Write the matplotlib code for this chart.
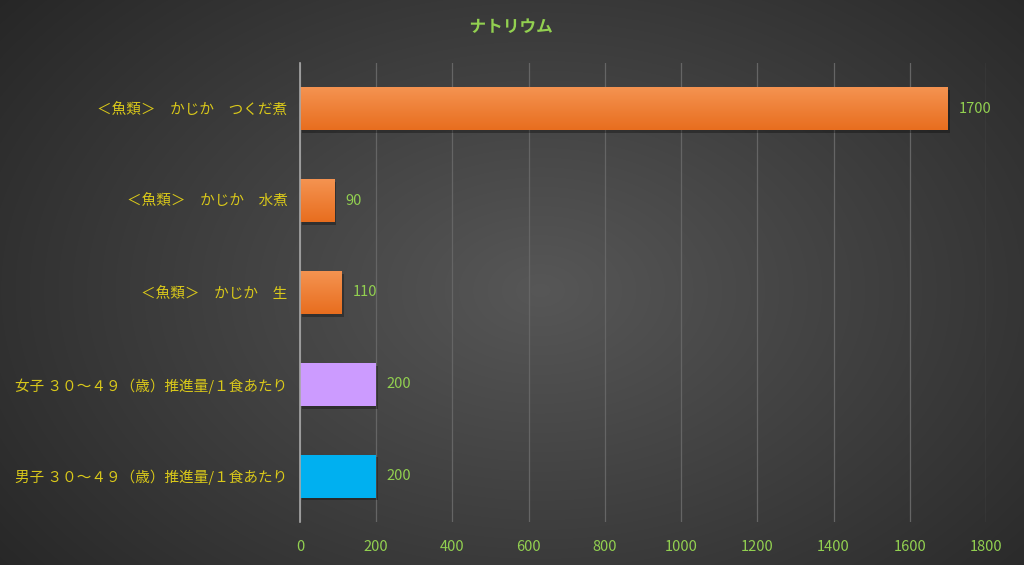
import numpy as np
import matplotlib.pyplot as plt
from matplotlib import patheffects

plt.rcParams['font.family'] = ['Noto Sans CJK JP', 'DejaVu Sans']

title = 'ナトリウム'
categories = ['＜魚類＞　かじか　つくだ煮', '＜魚類＞　かじか　水煮', '＜魚類＞　かじか　生',
              '女子 ３０～４９（歳）推進量/１食あたり', '男子 ３０～４９（歳）推進量/１食あたり']
values = [1700, 90, 110, 200, 200]
colors = ['#EE7B2C', '#EE7B2C', '#EE7B2C', '#CC9BFF', '#00B0F0']
xticks = [0, 200, 400, 600, 800, 1000, 1200, 1400, 1600, 1800]

fig = plt.figure(figsize=(10.24, 5.65), dpi=100)

# radial background
bg = fig.add_axes([0, 0, 1, 1], zorder=-10)
yy, xx = np.mgrid[0:565, 0:1024]
r = np.sqrt(((xx - 540) / 620.0) ** 2 + ((yy - 290) / 420.0) ** 2)
shade = np.clip(0.34 - 0.17 * r, 0.15, 0.34)
bg.imshow(np.dstack([shade] * 3), aspect='auto', extent=[0, 1, 0, 1])
bg.axis('off')

ax = fig.add_axes([300 / 1024, 43 / 565, 686 / 1024, 459 / 565])
ax.set_facecolor('none')
ypos = np.arange(len(categories))
bars = ax.barh(ypos, values, height=0.47, color=colors, zorder=3,
               edgecolor='none')
for b, c in zip(bars, colors):
    b.set_path_effects([patheffects.withSimplePatchShadow(offset=(1.5, -2), shadow_rgbFace='black', alpha=0.3)])
    if c == '#EE7B2C':
        x0, y0 = b.get_x(), b.get_y()
        w, h = b.get_width(), b.get_height()
        grad = np.linspace(0, 1, 64).reshape(-1, 1)
        top = np.array([0.96, 0.58, 0.32])
        bot = np.array([0.91, 0.43, 0.12])
        img = top + (bot - top) * grad[..., None]
        im = ax.imshow(img, extent=[x0, x0 + w, y0 + h, y0], aspect='auto', zorder=4)
        im.set_clip_path(b)

for y, v in zip(ypos, values):
    ax.text(v + 28, y, str(v), va='center', ha='left', color='#92D050', fontsize=10.5, zorder=5)

ax.set_xlim(0, 1800)
ax.set_ylim(len(categories) - 0.5, -0.5)
ax.set_xticks(xticks)
ax.set_xticklabels([str(t) for t in xticks])
ax.set_yticks(ypos)
ax.set_yticklabels(categories)
ax.tick_params(axis='x', colors='#92D050', length=0, labelsize=10.5, pad=13)
ax.tick_params(axis='y', colors='#D9C81A', length=0, labelsize=10.5, pad=9)
for lbl in ax.get_xticklabels():
    lbl.set_color('#92D050')
for lbl in ax.get_yticklabels():
    lbl.set_color('#D9C81A')
ax.grid(axis='x', color='#656565', linewidth=0.9, zorder=0)
ax.set_axisbelow(True)
for s in ['top', 'right', 'bottom']:
    ax.spines[s].set_visible(False)
ax.spines['left'].set_color('#A8A8A8')
ax.spines['left'].set_linewidth(1.2)
ax.spines['left'].set_zorder(6)

fig.text(511 / 1024, 1 - 27 / 565, title, ha='center', va='center', color='#92D050',
         fontsize=12, fontweight='bold',
         path_effects=[patheffects.SimpleLineShadow(offset=(1, -1.5), shadow_color='black', alpha=0.6),
                       patheffects.Normal()])

fig.savefig('out.png', dpi=100)
